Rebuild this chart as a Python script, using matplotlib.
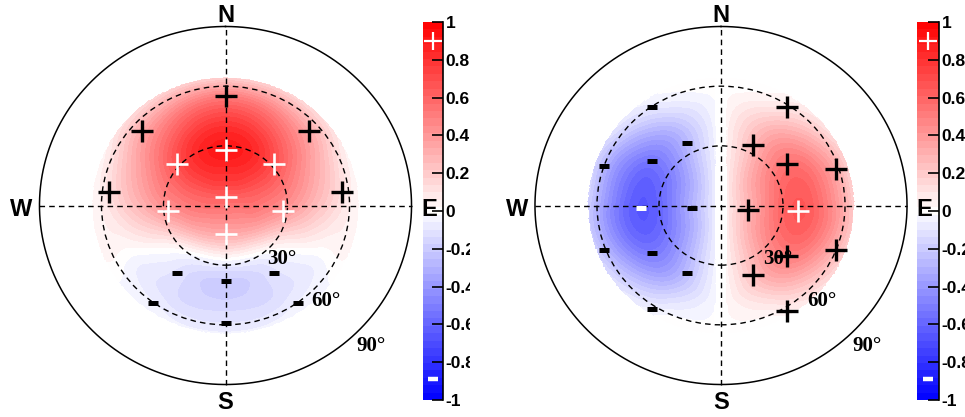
import numpy as np
import matplotlib
matplotlib.use("Agg")
import matplotlib.pyplot as plt
import matplotlib.tri as mtri
from matplotlib.colors import LinearSegmentedColormap
from matplotlib.patches import Circle

plt.rcParams['font.family'] = ['Liberation Sans', 'DejaVu Sans']

# ---------------- data ----------------
zenith_nodes = [0, 10, 20, 30, 40, 50, 60, 70, 80]
azimuth_nodes = [0, 30, 60, 90, 120, 150, 180, 210, 240, 270, 300, 330]  # from N towards E

left_field = [
    [0.55, 0.55, 0.55, 0.55, 0.55, 0.55, 0.55, 0.55, 0.55, 0.55, 0.55, 0.55],
    [0.72, 0.70, 0.62, 0.55, 0.47, 0.42, 0.40, 0.42, 0.47, 0.55, 0.62, 0.70],
    [0.85, 0.80, 0.65, 0.50, 0.35, 0.22, 0.18, 0.22, 0.35, 0.50, 0.65, 0.80],
    [0.90, 0.82, 0.60, 0.42, 0.15, -0.04, -0.08, -0.04, 0.15, 0.42, 0.60, 0.82],
    [0.80, 0.70, 0.48, 0.30, 0.04, -0.13, -0.20, -0.13, 0.04, 0.30, 0.48, 0.70],
    [0.62, 0.52, 0.33, 0.18, -0.02, -0.13, -0.16, -0.13, -0.02, 0.18, 0.33, 0.52],
    [0.32, 0.27, 0.15, 0.06, 0.0, -0.07, -0.09, -0.07, 0.0, 0.06, 0.15, 0.27],
    [0.0, 0.0, 0.0, 0.0, 0.0, 0.0, 0.0, 0.0, 0.0, 0.0, 0.0, 0.0],
    [0.0, 0.0, 0.0, 0.0, 0.0, 0.0, 0.0, 0.0, 0.0, 0.0, 0.0, 0.0],
]

right_field = [
    [0.0, 0.0, 0.0, 0.0, 0.0, 0.0, 0.0, 0.0, 0.0, 0.0, 0.0, 0.0],
    [0.0, 0.12, 0.20, 0.22, 0.20, 0.12, 0.0, -0.12, -0.20, -0.22, -0.20, -0.12],
    [0.0, 0.22, 0.38, 0.42, 0.38, 0.22, 0.0, -0.22, -0.38, -0.42, -0.38, -0.22],
    [0.0, 0.28, 0.52, 0.60, 0.52, 0.28, 0.0, -0.28, -0.52, -0.60, -0.52, -0.28],
    [0.0, 0.30, 0.56, 0.65, 0.56, 0.30, 0.0, -0.30, -0.56, -0.65, -0.56, -0.30],
    [0.0, 0.20, 0.44, 0.52, 0.44, 0.20, 0.0, -0.20, -0.44, -0.52, -0.44, -0.20],
    [0.0, 0.06, 0.24, 0.30, 0.24, 0.06, 0.0, -0.06, -0.24, -0.30, -0.24, -0.06],
    [0.0, 0.0, 0.04, 0.05, 0.04, 0.0, 0.0, 0.0, -0.04, -0.05, -0.04, 0.0],
    [0.0, 0.0, 0.0, 0.0, 0.0, 0.0, 0.0, 0.0, 0.0, 0.0, 0.0, 0.0],
]

# markers: zenith (deg), azimuth (deg from N towards E), sign, white?
left_mk_zenith = [55, 55, 55, 57, 57, 28, 31.6, 31.6, 4.3, 27.9, 27.9, 14.3, 41, 41, 38, 60.3, 60.3, 59]
left_mk_azimuth = [0, 313, 47, 277, 83, 0, 311.5, 48.5, 0, 264, 96, 180, 214.7, 145.3, 180, 215.6, 144.4, 180]
left_mk_sign = ['+'] * 12 + ['-'] * 6
left_mk_white = [False] * 5 + [True] * 7 + [False] * 6

right_mk_zenith = [58.9, 34.1, 38.1, 58.6, 13.3, 40.8, 59.9, 38.2, 61.9, 37.4,
                   59.7, 35.5, 40.2, 60.0, 14.1, 41.1, 60.9, 37.7, 61.8, 38.7]
right_mk_azimuth = [32.8, 27.0, 56.8, 71.7, 100, 128.5, 111.9, 156, 149, 94.3,
                    326, 332.4, 303.8, 289.4, 264.7, 234.4, 248.4, 205.8, 212.7, 268]
right_mk_sign = ['+'] * 10 + ['-'] * 10
right_mk_white = [False] * 9 + [True] + [False] * 9 + [True]

cbar_ticks = [-1, -0.8, -0.6, -0.4, -0.2, 0, 0.2, 0.4, 0.6, 0.8, 1]
cbar_labels = ['-1', '-0.8', '-0.6', '-0.4', '-0.2', '0', '0.2', '0.4', '0.6', '0.8', '1']
ring_labels = ['30°', '60°', '90°']
compass = ['N', 'S', 'W', 'E']

# ---------------- figure ----------------
W, H = 965, 417
fig = plt.figure(figsize=(W / 100, H / 100), dpi=100)


def px_axes(x0, x1, ytop, ybot, **kw):
    return fig.add_axes([x0 / W, 1 - ybot / H, (x1 - x0) / W, (ybot - ytop) / H], **kw)


SX, SY = 2.067, 1.989   # pixels per degree
CY = 205.5
FIELD_EDGE = 64.0       # zenith where the map stops
cmap = LinearSegmentedColormap.from_list('bwr2', [(0, 0, 1), (1, 1, 1), (1, 0, 0)])
levels = np.linspace(-1, 1, 52)


def draw_panel(ax, field, mz, ma, ms, mw, gap=0.0):
    xs, ys, zs = [0.0], [0.0], [field[0][0]]
    for i, th in enumerate(zenith_nodes[1:], start=1):
        for j, ph in enumerate(azimuth_nodes):
            xs.append(th * np.sin(np.radians(ph)))
            ys.append(th * np.cos(np.radians(ph)))
            zs.append(field[i][j])
    tri = mtri.Triangulation(xs, ys)
    refiner = mtri.UniformTriRefiner(tri)
    tri_r, z_r = refiner.refine_field(np.array(zs), subdiv=4)
    z_r = np.clip(z_r, -1, 1)
    xc = tri_r.x[tri_r.triangles].mean(axis=1)
    yc = tri_r.y[tri_r.triangles].mean(axis=1)
    mask = np.hypot(xc, yc) > FIELD_EDGE
    if gap > 0:
        mask |= np.abs(xc) < gap
    tri_r.set_mask(mask)
    cs = ax.tricontourf(tri_r, z_r, levels=levels, cmap=cmap, zorder=1)

    t = np.linspace(0, 2 * np.pi, 400)
    ax.plot(90 * np.sin(t), 90 * np.cos(t), color='k', lw=1.1, zorder=3)
    for r in (30, 60):
        ax.add_patch(Circle((0, 0), r, fill=False, ec='k', lw=1.0,
                            ls=(0, (4, 3)), zorder=3))
    ax.plot([-90, 90], [0, 0], color='k', lw=1.0, ls=(0, (4, 3)), zorder=3)
    ax.plot([0, 0], [-90, 90], color='k', lw=1.0, ls=(0, (4, 3)), zorder=3)

    for lab, (x, y) in zip(ring_labels, [(20.3, -26.9), (41.6, -47.8), (63.4, -70.6)]):
        ax.text(x, y, lab, ha='left', va='center', fontsize=15,
                family=['Liberation Serif', 'DejaVu Serif'], fontweight='bold', zorder=4)

    for z, a, s, wht in zip(mz, ma, ms, mw):
        x = z * np.sin(np.radians(a))
        y = z * np.cos(np.radians(a))
        c = 'white' if wht else 'black'
        if s == '+':
            ax.plot(x, y, marker='+', ms=16.5, mew=2.4 if not wht else 1.9,
                    color=c, ls='none', zorder=5)
        else:
            ax.plot(x, y, marker='_', ms=7.2, mew=3.6, color=c, ls='none', zorder=5)

    ax.axis('off')
    for lab, (x, y) in zip(compass, [(0, 95.5), (0, -98.8), (-98.7, -1.8), (98.5, -1.8)]):
        fig.text(x, y, lab, transform=ax.transData, ha='center', va='center',
                 fontsize=17, fontweight='bold', zorder=10)
    return cs


def draw_cbar(cax, cs):
    cb = fig.colorbar(cs, cax=cax, ticks=cbar_ticks)
    cb.outline.set_visible(False)
    cax.set_yticklabels(cbar_labels)
    cax.yaxis.set_ticks_position('right')
    cax.tick_params(axis='y', direction='in', length=8, width=1.2, pad=2,
                    labelsize=12.5, colors='k')
    cax.tick_params(axis='y', which='minor', length=0)
    for lbl in cax.get_yticklabels():
        lbl.set_fontweight('bold')
    cax.plot([1, 1], [0, 1], transform=cax.transAxes, color='k', lw=1.2, clip_on=False)
    cax.plot(0.5, 0.9, marker='+', ms=13, mew=1.6, color='white', clip_on=False, zorder=5)
    cax.plot(0.5, -0.89, marker='_', ms=7, mew=3.2, color='white', clip_on=False, zorder=5)


# left panel
axL = px_axes(225.5 - 100 * SX, 225.5 + 100 * SX, CY - 100 * SY, CY + 100 * SY)
axL.set_xlim(-100, 100)
axL.set_ylim(-100, 100)
csL = draw_panel(axL, left_field, left_mk_zenith, left_mk_azimuth, left_mk_sign, left_mk_white)
caxL = px_axes(423, 443, 22, 400)
draw_cbar(caxL, csL)

# right panel (white background clips left colorbar labels, as in the original)
x_left_px, x_right_px, cxR = 470, 916, 721
axR = px_axes(x_left_px, x_right_px, CY - 100 * SY, CY + 100 * SY)
axR.set_xlim(-(cxR - x_left_px) / SX, (x_right_px - cxR) / SX)
axR.set_ylim(-100, 100)
csR = draw_panel(axR, right_field, right_mk_zenith, right_mk_azimuth, right_mk_sign,
                 right_mk_white, gap=3.3)
axR.axis('on')
axR.set_facecolor('white')
for sp in axR.spines.values():
    sp.set_visible(False)
axR.set_xticks([])
axR.set_yticks([])
caxR = px_axes(917, 939, 22, 400)
draw_cbar(caxR, csR)

fig.savefig('out.png', dpi=100, facecolor='white')
